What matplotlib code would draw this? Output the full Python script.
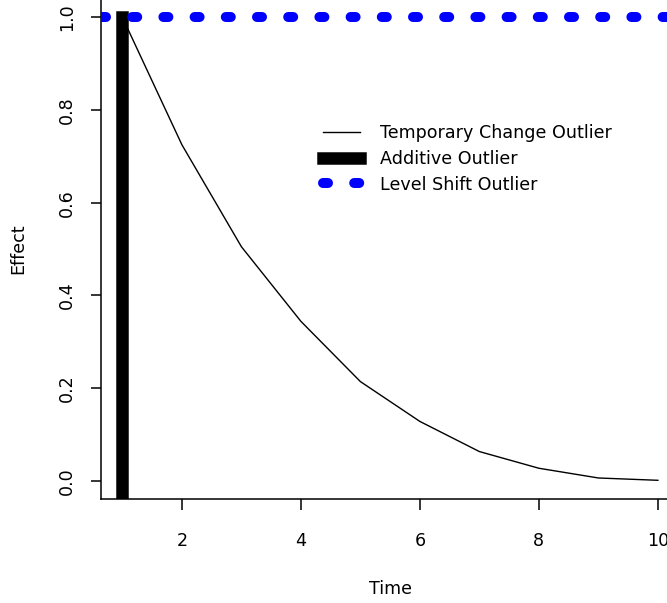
import matplotlib.pyplot as plt
import numpy as np

# Effect of each outlier type over time
time = [1, 2, 3, 4, 5, 6, 7, 8, 9, 10]
tc_effect = [1.0, 0.725, 0.505, 0.344, 0.214, 0.128, 0.063, 0.027, 0.006, 0.001]
ao_time = 1
ao_effect = 1.0
ls_effect = 1.0

x_ticks = [2, 4, 6, 8, 10]
y_ticks = [0.0, 0.2, 0.4, 0.6, 0.8, 1.0]
y_tick_labels = ['0.0', '0.2', '0.4', '0.6', '0.8', '1.0']
labels = ['Temporary Change Outlier', 'Additive Outlier', 'Level Shift Outlier']

fs = 12.6
W, H = 667, 603
fig = plt.figure(figsize=(W / 100, H / 100), dpi=100)
ax = fig.add_axes([101 / W, (H - 499.3) / H, 578.3 / W, 500.5 / H])

# R-style 4% padding on both axes
xlo, xhi = 1 - 0.36, 10 + 0.36
ylo, yhi = -0.04, 1.04
ax.set_xlim(xlo, xhi)
ax.set_ylim(ylo, yhi)

tc_line, = ax.plot(time, tc_effect, color='black', lw=1.0, zorder=2)
ao_line = ax.axvline(ao_time, ymin=0, ymax=(ao_effect - ylo) / (yhi - ylo),
                     color='black', lw=9.0, solid_capstyle='projecting', zorder=3)
ls_line = ax.axhline(ls_effect, color='blue', lw=7.2, dashes=(0.5, 2.62),
                     dash_capstyle='round', zorder=4)

ax.set_xticks(x_ticks)
ax.set_xticklabels([str(t) for t in x_ticks])
ax.set_yticks(y_ticks)
ax.set_yticklabels(y_tick_labels, rotation=90, va='center')
ax.tick_params(axis='x', length=8, width=1.1, pad=15.5, labelsize=fs)
ax.tick_params(axis='y', length=7.5, width=1.1, pad=10.5, labelsize=fs)
for s in ax.spines.values():
    s.set_linewidth(1.1)

ax.set_xlabel('Time', fontsize=fs, va='center')
ax.xaxis.set_label_coords(0.5, (499.3 - 589) / 500.5)
ax.set_ylabel('Effect', fontsize=fs, va='center')
ax.yaxis.set_label_coords((18 - 101) / 578.3, 0.5)

ax.legend([tc_line, ao_line, ls_line], labels, loc='upper left',
          bbox_to_anchor=(323 / W, 1 - 124.5 / H), bbox_transform=fig.transFigure,
          frameon=False, borderpad=0, borderaxespad=0, fontsize=fs,
          handlelength=2.11, handletextpad=1.14, labelspacing=0.43)

fig.savefig('out.png', dpi=100)
